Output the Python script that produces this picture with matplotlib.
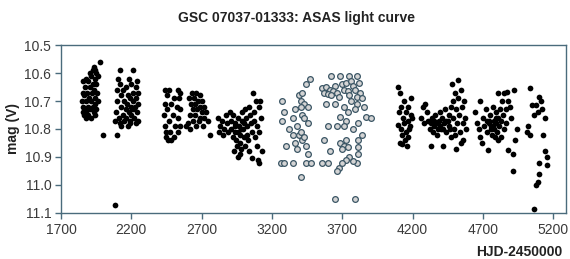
import matplotlib.pyplot as plt
import numpy as np

plt.rcParams['font.family'] = ['Liberation Sans', 'DejaVu Sans']

# ASAS photometry, HJD-2450000 vs V mag
season1 = [(1974, 10.56), (1935, 10.58), (1925, 10.59), (1945, 10.59), (1905, 10.60), (1950, 10.60), (1915, 10.61),
           (1880, 10.62), (1940, 10.62), (1960, 10.61), (1860, 10.63), (1895, 10.63), (1925, 10.64), (1950, 10.64),
           (1870, 10.65), (1905, 10.65), (1935, 10.66), (1855, 10.67), (1885, 10.67), (1920, 10.67), (1955, 10.67),
           (1865, 10.68), (1900, 10.69), (1940, 10.69), (1850, 10.70), (1880, 10.70), (1915, 10.70), (1945, 10.71),
           (1960, 10.70), (1860, 10.72), (1890, 10.72), (1925, 10.72), (1870, 10.73), (1905, 10.73), (1950, 10.73),
           (1855, 10.74), (1880, 10.74), (1935, 10.74), (1865, 10.75), (1895, 10.75), (1945, 10.75), (1875, 10.76),
           (1915, 10.76), (2000, 10.82), (2095, 10.82), (2082, 11.07)]

season2 = [(2116, 10.59), (2213, 10.59), (2105, 10.62), (2180, 10.62), (2240, 10.63), (2120, 10.64), (2200, 10.64),
           (2160, 10.65), (2230, 10.65), (2095, 10.66), (2140, 10.66), (2210, 10.67), (2250, 10.67), (2175, 10.68),
           (2125, 10.68), (2190, 10.69), (2235, 10.69), (2150, 10.70), (2215, 10.70), (2100, 10.70), (2170, 10.71),
           (2245, 10.71), (2130, 10.72), (2195, 10.72), (2225, 10.72), (2160, 10.73), (2210, 10.73), (2090, 10.74),
           (2180, 10.74), (2240, 10.74), (2140, 10.75), (2200, 10.75), (2110, 10.76), (2165, 10.76), (2220, 10.76),
           (2085, 10.77), (2150, 10.77), (2190, 10.77), (2250, 10.77), (2116, 10.78), (2193, 10.78), (2230, 10.78),
           (2130, 10.79), (2175, 10.79)]

season3 = [(2440, 10.66), (2470, 10.66), (2530, 10.66), (2545, 10.67), (2455, 10.68), (2500, 10.69), (2540, 10.69),
           (2440, 10.71), (2480, 10.71), (2525, 10.72), (2455, 10.73), (2545, 10.73), (2435, 10.75), (2495, 10.75),
           (2530, 10.76), (2465, 10.77), (2440, 10.79), (2510, 10.79), (2545, 10.79), (2450, 10.81), (2475, 10.81),
           (2530, 10.81), (2445, 10.83), (2460, 10.84), (2480, 10.84), (2500, 10.83),
           (2630, 10.67), (2660, 10.67), (2690, 10.68), (2610, 10.69), (2645, 10.69), (2675, 10.70), (2700, 10.70),
           (2625, 10.71), (2655, 10.71), (2685, 10.72), (2715, 10.72), (2640, 10.73), (2670, 10.73), (2700, 10.74),
           (2730, 10.74), (2615, 10.75), (2655, 10.75), (2690, 10.76), (2720, 10.76), (2635, 10.77), (2680, 10.77),
           (2745, 10.77), (2605, 10.78), (2660, 10.79), (2710, 10.79), (2620, 10.80), (2760, 10.82), (2590, 10.79),
           (2815, 10.76), (2830, 10.79), (2845, 10.77), (2860, 10.80), (2875, 10.75), (2880, 10.78), (2890, 10.81),
           (2820, 10.81), (2850, 10.82), (2900, 10.74), (2905, 10.77), (2910, 10.80), (2920, 10.83), (2925, 10.75),
           (2935, 10.78), (2940, 10.81), (2945, 10.84), (2950, 10.86), (2955, 10.90), (2960, 10.76), (2965, 10.79),
           (2970, 10.82), (2975, 10.85), (2980, 10.87), (2985, 10.74), (2990, 10.77), (2995, 10.80), (3000, 10.83),
           (3005, 10.86), (3010, 10.73), (3015, 10.76), (3020, 10.79), (3025, 10.82), (3030, 10.84), (3035, 10.88),
           (3040, 10.72), (3045, 10.75), (3050, 10.78), (3055, 10.81), (3058, 10.905), (3065, 10.67), (3070, 10.74),
           (3075, 10.77), (3080, 10.83), (3085, 10.70), (3090, 10.79), (3095, 10.86), (3101, 10.91), (3105, 10.72),
           (3110, 10.81), (3115, 10.70), (3120, 10.76), (3129, 10.88), (3110, 10.92), (2930, 10.88), (2970, 10.89),
           (3000, 10.78), (2940, 10.79), (2960, 10.81), (2980, 10.80)]

# open (grey) points, 2004-2006 seasons
grey_a = [(3273, 10.70), (3286, 10.74), (3273, 10.77), (3299, 10.86), (3261, 10.92), (3286, 10.92), (3351, 10.92),
          (3351, 10.82), (3377, 10.87), (3389, 10.82), (3403, 10.81), (3415, 10.84), (3428, 10.83), (3441, 10.86),
          (3403, 10.97), (3454, 10.89), (3441, 10.92), (3480, 10.92), (3454, 10.78), (3467, 10.62), (3441, 10.64),
          (3389, 10.68), (3403, 10.70), (3428, 10.71), (3346, 10.76), (3364, 10.73), (3403, 10.72), (3415, 10.75),
          (3454, 10.72), (3428, 10.76), (3377, 10.79), (3320, 10.80), (3415, 10.67), (3364, 10.85)]

grey_b = [(3621, 10.61), (3685, 10.61), (3750, 10.61), (3802, 10.61), (3557, 10.655), (3583, 10.65), (3609, 10.66),
          (3647, 10.645), (3698, 10.64), (3724, 10.635), (3763, 10.63), (3776, 10.645), (3815, 10.635), (3570, 10.67),
          (3596, 10.675), (3635, 10.665), (3660, 10.67), (3711, 10.66), (3737, 10.665), (3789, 10.66), (3827, 10.67),
          (3622, 10.68), (3673, 10.685), (3750, 10.68), (3802, 10.685), (3840, 10.69), (3583, 10.71), (3647, 10.71),
          (3711, 10.72), (3763, 10.70), (3802, 10.71), (3853, 10.72), (3866, 10.756), (3685, 10.756), (3737, 10.74),
          (3789, 10.73), (3905, 10.76), (3596, 10.79), (3570, 10.84), (3609, 10.88), (3557, 10.92), (3596, 10.92),
          (3686, 10.85), (3711, 10.86), (3737, 10.865), (3724, 10.84), (3698, 10.87), (3814, 10.84), (3814, 10.865),
          (3814, 10.89), (3801, 10.92), (3776, 10.915), (3750, 10.90), (3724, 10.91), (3673, 10.94), (3660, 10.95),
          (3698, 10.92), (3647, 11.05), (3788, 11.05), (3724, 10.77), (3814, 10.78), (3711, 10.79), (3660, 10.79),
          (3775, 10.80), (3840, 10.82)]

season5 = [(4098, 10.65), (4110, 10.67), (4188, 10.69), (4140, 10.70), (4120, 10.72), (4170, 10.72), (4105, 10.74),
           (4150, 10.74), (4185, 10.75), (4130, 10.76), (4165, 10.77), (4098, 10.785), (4140, 10.78), (4180, 10.79),
           (4115, 10.80), (4155, 10.81), (4125, 10.82), (4170, 10.83), (4110, 10.85), (4125, 10.855), (4162, 10.86),
           (4145, 10.84), (4195, 10.76), (4175, 10.80),
           (4270, 10.72), (4290, 10.71), (4260, 10.76), (4280, 10.78), (4300, 10.74), (4310, 10.77), (4320, 10.80),
           (4329, 10.86), (4340, 10.76), (4350, 10.79), (4360, 10.75), (4370, 10.78), (4375, 10.82), (4385, 10.77),
           (4395, 10.74), (4400, 10.80), (4410, 10.76), (4419, 10.86), (4425, 10.78), (4430, 10.73), (4440, 10.81),
           (4450, 10.77), (4455, 10.75), (4460, 10.79), (4470, 10.72), (4475, 10.83), (4480, 10.64), (4485, 10.70),
           (4490, 10.76), (4495, 10.80), (4500, 10.67), (4505, 10.73), (4511, 10.87), (4515, 10.78), (4520, 10.625),
           (4525, 10.69), (4530, 10.75), (4535, 10.81), (4545, 10.66), (4550, 10.72), (4555, 10.78), (4560, 10.84),
           (4565, 10.70), (4570, 10.76), (4580, 10.80), (4540, 10.85), (4345, 10.81), (4395, 10.79), (4435, 10.77),
           (4465, 10.80), (4415, 10.80), (4380, 10.80), (4330, 10.78), (4355, 10.77), (4500, 10.82)]

season6 = [(4644, 10.74), (4680, 10.70), (4660, 10.78), (4675, 10.80), (4680, 10.83), (4694, 10.85), (4700, 10.76),
           (4710, 10.79), (4720, 10.73), (4730, 10.81), (4737, 10.875), (4745, 10.77), (4750, 10.75), (4760, 10.79),
           (4765, 10.82), (4770, 10.72), (4775, 10.77), (4780, 10.80), (4790, 10.74), (4795, 10.78), (4800, 10.81),
           (4805, 10.76), (4808, 10.67), (4815, 10.79), (4820, 10.73), (4825, 10.83), (4830, 10.77), (4835, 10.70),
           (4845, 10.75), (4847, 10.67), (4850, 10.80), (4860, 10.73), (4872, 10.667), (4865, 10.78), (4879, 10.875),
           (4890, 10.72), (4900, 10.76), (4914, 10.89), (4914, 10.95), (4922, 10.66), (4928, 10.84), (4943, 10.80),
           (4880, 10.70), (4755, 10.80), (4785, 10.83), (4810, 10.84), (4740, 10.78), (4770, 10.79), (4795, 10.76),
           (4725, 10.77)]

season7 = [(5037, 10.655), (5101, 10.685), (5075, 10.715), (5049, 10.715), (5120, 10.73), (5060, 10.75),
           (5140, 10.76), (5090, 10.74), (5011, 10.81), (5037, 10.82), (5127, 10.82), (5140, 10.88), (5152, 10.90),
           (5101, 10.92), (5152, 10.93), (5101, 10.96), (5075, 11.0), (5090, 10.99), (5062, 11.085), (5020, 10.79),
           (5110, 10.70)]

x_ticks = [1700, 2200, 2700, 3200, 3700, 4200, 4700, 5200]
y_ticks = [10.5, 10.6, 10.7, 10.8, 10.9, 11.0, 11.1]

black = np.array(season1 + season2 + season3 + season5 + season6 + season7)
grey = np.array(grey_a + grey_b)

frame = '#4a6b7c'
fig = plt.figure(figsize=(5.7, 2.59), dpi=100)
ax = fig.add_axes([0.107, 0.178, 0.886, 0.648])

ax.scatter(black[:, 0], black[:, 1], s=17, c='black', linewidths=0, zorder=3)
ax.scatter(grey[:, 0], grey[:, 1], s=17, c='#d4d4d4', edgecolors='#3b5665', linewidths=0.9, zorder=3)

ax.set_xlim(1700, 5290)
ax.set_ylim(11.1, 10.5)
ax.set_xticks(x_ticks)
ax.set_yticks(y_ticks)
ax.set_yticklabels(['%.1f' % v for v in y_ticks])

for sp in ax.spines.values():
    sp.set_color(frame)
    sp.set_linewidth(1.0)
ax.tick_params(direction='out', length=4, width=1, color=frame, labelsize=10, labelcolor='#3a3a3a', pad=3)

fig.text(0.52, 0.93, 'GSC 07037-01333: ASAS light curve', ha='center', va='center',
         fontsize=10, fontweight='bold', color='#222222')
fig.text(0.022, 0.502, 'mag (V)', rotation=90, ha='center', va='center',
         fontsize=10, fontweight='bold', color='#222222')
fig.text(0.986, 0.027, 'HJD-2450000', ha='right', va='center',
         fontsize=10, fontweight='bold', color='#222222')

plt.savefig('out.png', dpi=100)
